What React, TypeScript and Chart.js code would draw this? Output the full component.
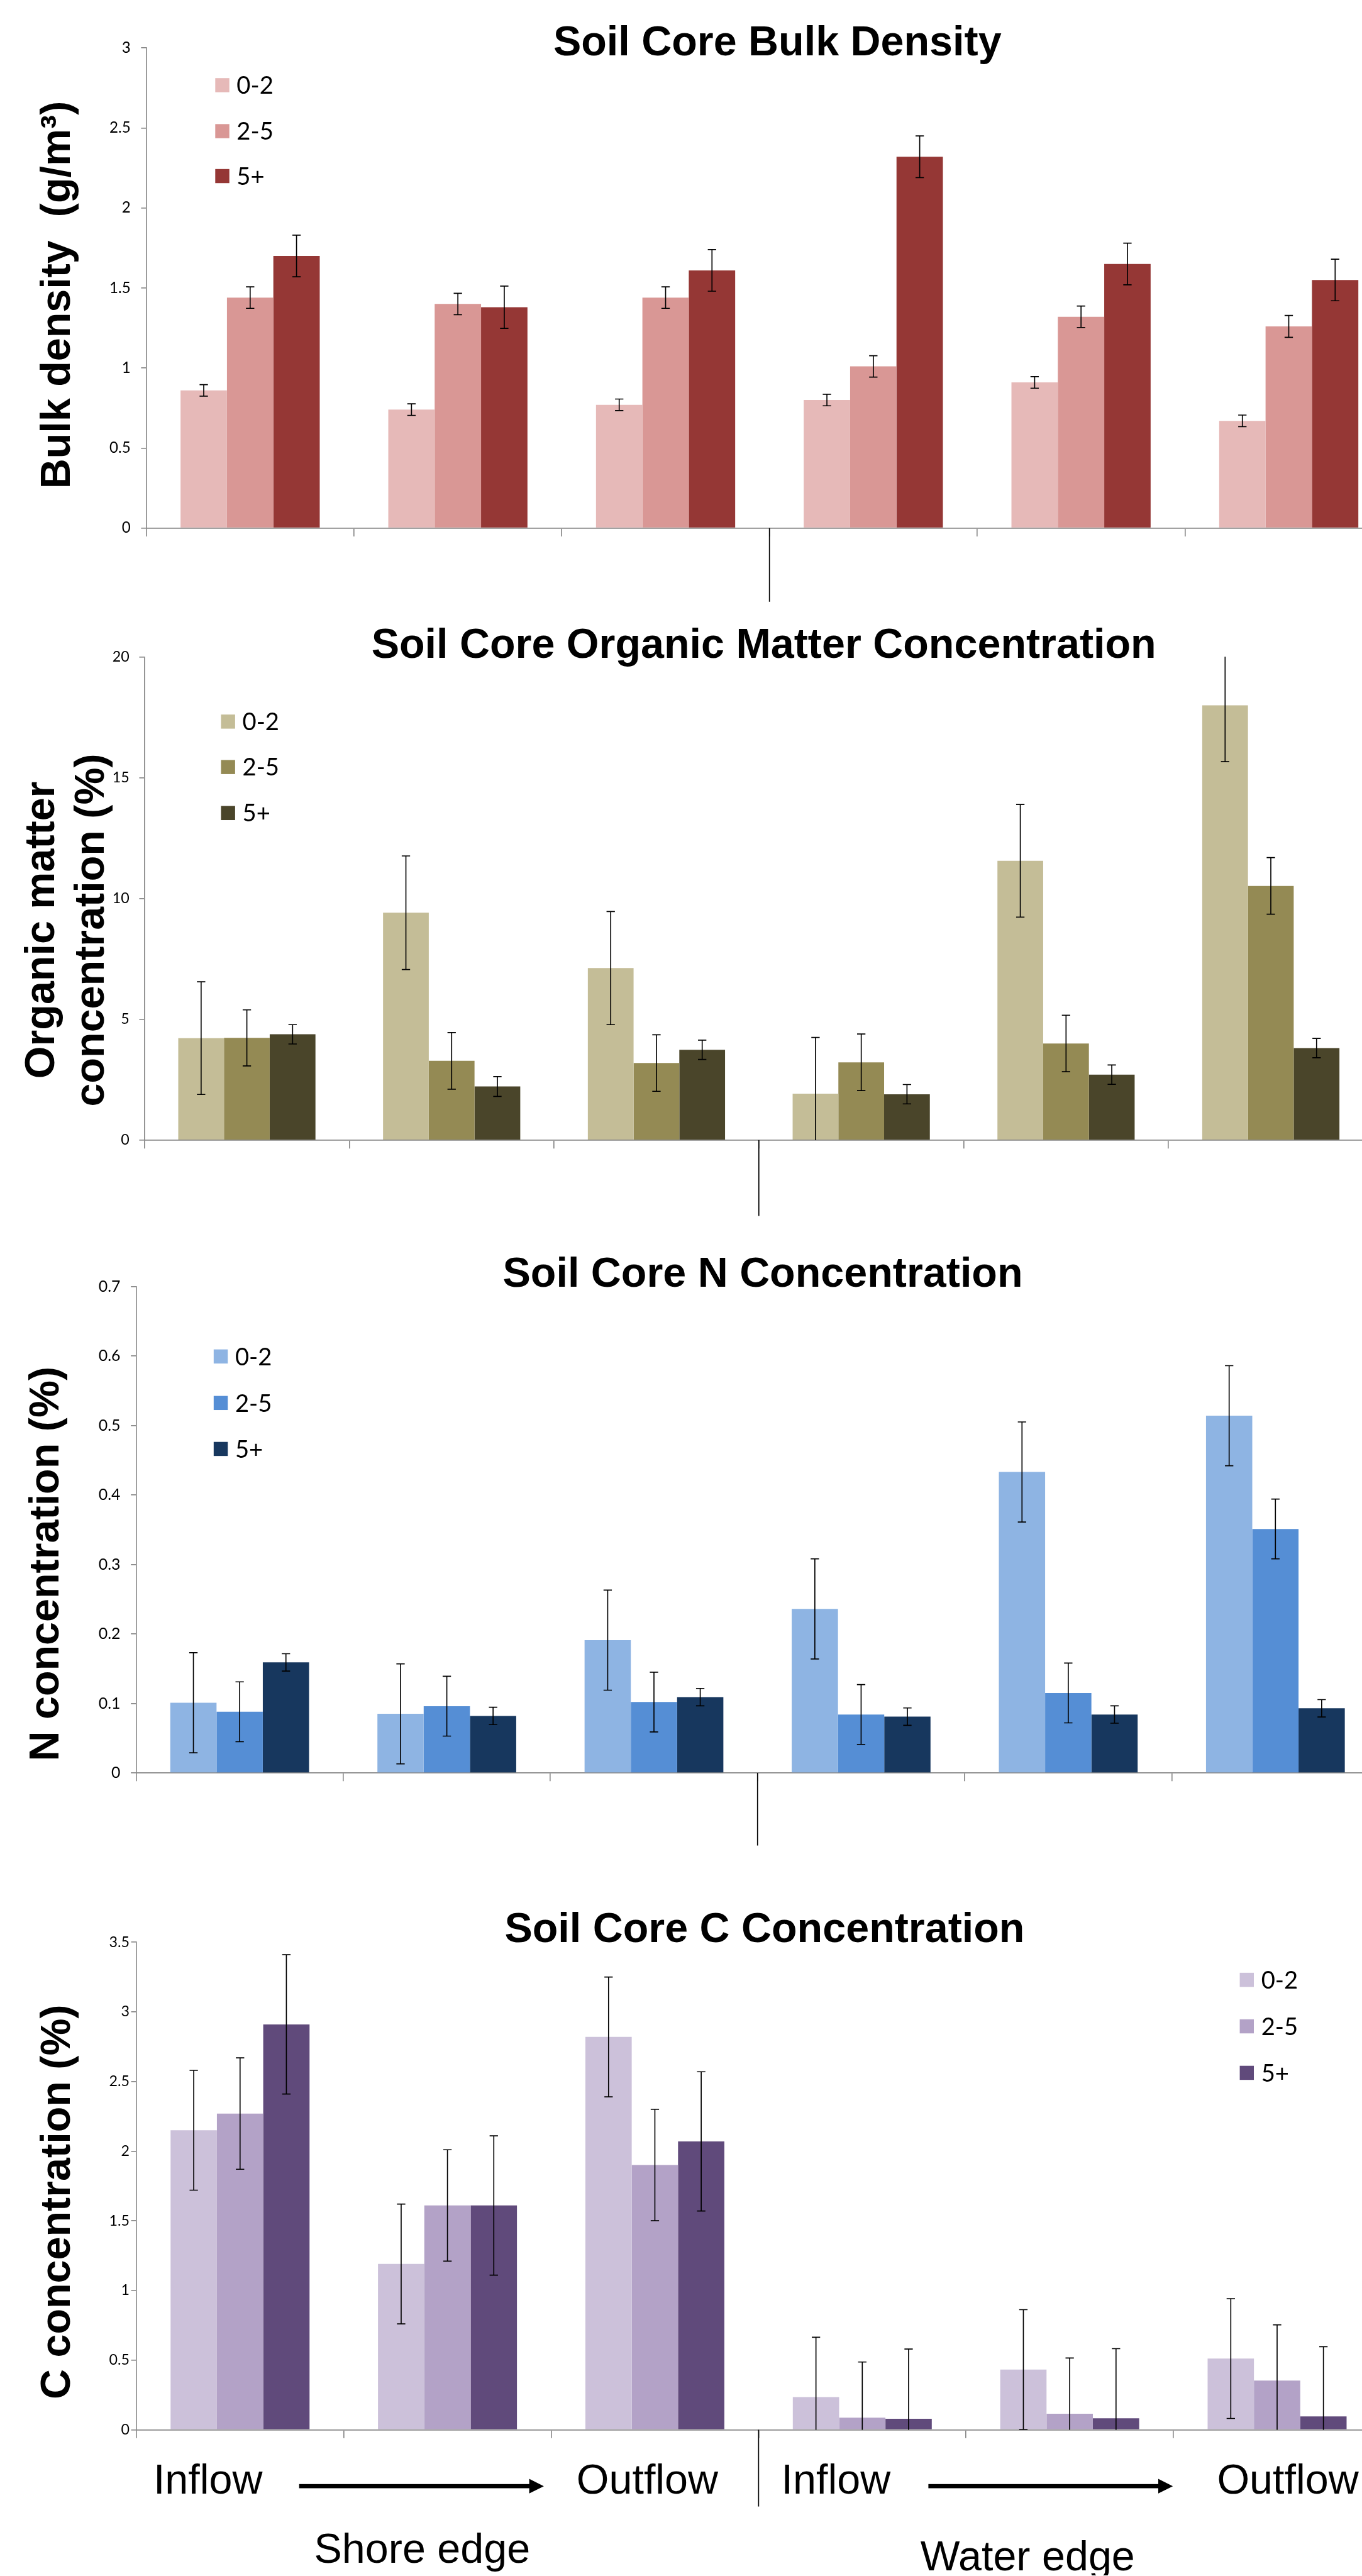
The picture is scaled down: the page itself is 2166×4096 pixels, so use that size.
import React, { useEffect, useRef } from "react";
import { Chart, registerables } from "chart.js";

Chart.register(...registerables);

const S = 2166 / 2607;
const FULL_W = 2700;

const categories = ["Shore inflow", "Shore middle", "Shore outflow", "Water inflow", "Water middle", "Water outflow"];
const depthLabels = ["0-2", "2-5", "5+"];

// Bulk density (g/m3)
const bulk02 = [0.86, 0.74, 0.77, 0.8, 0.91, 0.67];
const bulk25 = [1.44, 1.4, 1.44, 1.01, 1.32, 1.26];
const bulk5p = [1.7, 1.38, 1.61, 2.32, 1.65, 1.55];
const bulkErr02 = [0.036, 0.036, 0.036, 0.036, 0.036, 0.036];
const bulkErr25 = [0.067, 0.067, 0.067, 0.067, 0.067, 0.068];
const bulkErr5p = [0.13, 0.132, 0.13, 0.13, 0.13, 0.13];
const bulkTicks = [0, 0.5, 1, 1.5, 2, 2.5, 3];
const bulkTickLabels = ["0", "0.5", "1", "1.5", "2", "2.5", "3"];

// Organic matter (%)
const om02 = [4.22, 9.41, 7.12, 1.92, 11.56, 17.99];
const om25 = [4.23, 3.28, 3.19, 3.22, 4.0, 10.52];
const om5p = [4.38, 2.22, 3.74, 1.9, 2.71, 3.81];
const omErr02 = [2.33, 2.35, 2.34, 2.33, 2.33, 2.33];
const omErr25 = [1.16, 1.17, 1.17, 1.17, 1.17, 1.17];
const omErr5p = [0.4, 0.41, 0.4, 0.4, 0.4, 0.4];
const omTicks = [0, 5, 10, 15, 20];
const omTickLabels = ["0", "5", "10", "15", "20"];

// N concentration (%)
const n02 = [0.101, 0.085, 0.191, 0.236, 0.433, 0.514];
const n25 = [0.088, 0.096, 0.102, 0.084, 0.115, 0.351];
const n5p = [0.159, 0.082, 0.109, 0.081, 0.084, 0.093];
const nErr02 = [0.072, 0.072, 0.072, 0.072, 0.072, 0.072];
const nErr25 = [0.043, 0.043, 0.043, 0.043, 0.043, 0.043];
const nErr5p = [0.0125, 0.0125, 0.0125, 0.0125, 0.0125, 0.0125];
const nTicks = [0, 0.1, 0.2, 0.3, 0.4, 0.5, 0.6, 0.7];
const nTickLabels = ["0", "0.1", "0.2", "0.3", "0.4", "0.5", "0.6", "0.7"];

// C concentration (%)
const c02 = [2.15, 1.19, 2.82, 0.234, 0.432, 0.511];
const c25 = [2.27, 1.61, 1.9, 0.086, 0.115, 0.353];
const c5p = [2.91, 1.61, 2.07, 0.079, 0.082, 0.096];
const cErr02 = [0.43, 0.43, 0.43, 0.43, 0.43, 0.43];
const cErr25 = [0.4, 0.4, 0.4, 0.4, 0.4, 0.4];
const cErr5p = [0.5, 0.5, 0.5, 0.5, 0.5, 0.5];
const cTicks = [0, 0.5, 1, 1.5, 2, 2.5, 3, 3.5];
const cTickLabels = ["0", "0.5", "1", "1.5", "2", "2.5", "3", "3.5"];

const flowLabels = ["Inflow", "Outflow", "Inflow", "Outflow"];
const edgeLabels = ["Shore edge", "Water edge"];

const bulkColors = ["#E6B9B8", "#D99795", "#953735"];
const omColors = ["#C4BD97", "#948A54", "#4A452A"];
const nColors = ["#8EB4E3", "#558ED5", "#17375E"];
const cColors = ["#CCC1DA", "#B3A2C7", "#604A7B"];

const AXIS_GRAY = "#898989";
const SANS = '"Liberation Sans", Arial, Helvetica, sans-serif';
const HUMAN = 'Lato, "Open Sans", sans-serif';

const panels = [
  {
    key: "bulk", top: 0, height: 1170,
    area: { left: 280, right: 2665.6, top: 91.7, bottom: 1010.6 },
    series: [bulk02, bulk25, bulk5p], errors: [bulkErr02, bulkErr25, bulkErr5p], colors: bulkColors,
    ticks: bulkTicks, tickLabels: bulkTickLabels, tickFont: 29, tickPad: 20,
    title: "Soil Core Bulk Density", titleX: 1488, titleY: 106,
    yLabel: ["Bulk density  (g/m\u00B3)"], yLabelX: [134], yLabelY: 564.5,
    legendX: 412, legendRows: [163, 251, 337], sepLen: 141, bottom: false,
  },
  {
    key: "om", top: 1170, height: 1170,
    area: { left: 276.5, right: 2628.5, top: 1257, bottom: 2182 },
    series: [om02, om25, om5p], errors: [omErr02, omErr25, omErr5p], colors: omColors,
    ticks: omTicks, tickLabels: omTickLabels, tickFont: 28, tickPad: 19,
    title: "Soil Core Organic Matter Concentration", titleX: 1462, titleY: 1258.5,
    yLabel: ["Organic matter", "concentration (%)"], yLabelX: [104, 198], yLabelY: 1780,
    legendX: 423, legendRows: [1381, 1468, 1556], sepLen: 145, bottom: false,
  },
  {
    key: "n", top: 2340, height: 1205,
    area: { left: 260.5, right: 2639.5, top: 2462, bottom: 3393 },
    series: [n02, n25, n5p], errors: [nErr02, nErr25, nErr5p], colors: nColors,
    ticks: nTicks, tickLabels: nTickLabels, tickFont: 30, tickPad: 20,
    title: "Soil Core N Concentration", titleX: 1460, titleY: 2462,
    yLabel: ["N concentration (%)"], yLabelX: [112], yLabelY: 2993,
    legendX: 409, legendRows: [2596, 2685, 2773], sepLen: 139, bottom: false,
  },
  {
    key: "c", top: 3545, height: 1384,
    area: { left: 261, right: 2643, top: 3717, bottom: 4650 },
    series: [c02, c25, c5p], errors: [cErr02, cErr25, cErr5p], colors: cColors,
    ticks: cTicks, tickLabels: cTickLabels, tickFont: 28, tickPad: 3,
    title: "Soil Core C Concentration", titleX: 1463.5, titleY: 3717,
    yLabel: ["C concentration (%)"], yLabelX: [133], yLabelY: 4214,
    legendX: 2373, legendRows: [3789, 3878, 3967], sepLen: 147, bottom: true,
  },
];

function Panel({ spec }: { spec: any }) {
  const ref = useRef<HTMLCanvasElement>(null);
  const topPx = Math.round(spec.top * S);
  const hPx = Math.round((spec.top + spec.height) * S) - topPx;
  const wPx = Math.round(FULL_W * S);

  useEffect(() => {
    const canvas = ref.current;
    if (!canvas) return;
    const X = (v: number) => v * S;
    const Y = (v: number) => v * S - topPx;
    const yMax = spec.ticks[spec.ticks.length - 1];

    const errorBars = {
      id: "errorBars-" + spec.key,
      afterDatasetsDraw(chart: any) {
        const ctx = chart.ctx;
        const ys = chart.scales.y;
        ctx.save();
        ctx.strokeStyle = "#000";
        ctx.lineWidth = 2 * S;
        const cap = 8 * S;
        spec.errors.forEach((errArr: number[], di: number) => {
          const meta = chart.getDatasetMeta(di);
          meta.data.forEach((el: any, j: number) => {
            const v = spec.series[di][j];
            const e = errArr[j];
            const hi = v + e;
            const lo = v - e;
            const yHi = ys.getPixelForValue(Math.min(hi, yMax));
            const yLo = ys.getPixelForValue(Math.max(lo, 0));
            const x = el.x;
            ctx.beginPath();
            ctx.moveTo(x, yHi);
            ctx.lineTo(x, yLo);
            if (hi <= yMax) {
              ctx.moveTo(x - cap, yHi);
              ctx.lineTo(x + cap, yHi);
            }
            if (lo >= 0) {
              ctx.moveTo(x - cap, yLo);
              ctx.lineTo(x + cap, yLo);
            }
            ctx.stroke();
          });
        });
        ctx.restore();
      },
    };

    const deco = {
      id: "deco-" + spec.key,
      afterDraw(chart: any) {
        const ctx = chart.ctx;
        const xs = chart.scales.x;
        ctx.save();
        ctx.fillStyle = "#000";
        // title
        ctx.font = `bold ${80 * S}px ${SANS}`;
        ctx.textAlign = "center";
        ctx.textBaseline = "alphabetic";
        ctx.fillText(spec.title, X(spec.titleX), Y(spec.titleY));
        // y label
        spec.yLabel.forEach((line: string, i: number) => {
          ctx.save();
          ctx.translate(X(spec.yLabelX[i]), Y(spec.yLabelY));
          ctx.rotate(-Math.PI / 2);
          ctx.textAlign = "center";
          ctx.fillText(line, 0, 0);
          ctx.restore();
        });
        // legend
        ctx.font = `${46 * S}px ${HUMAN}`;
        ctx.textAlign = "left";
        depthLabels.forEach((lab, i) => {
          const r = spec.legendRows[i];
          ctx.fillStyle = spec.colors[i];
          ctx.fillRect(X(spec.legendX), Y(r - 13.5), 27 * S, 27 * S);
          ctx.fillStyle = "#000";
          ctx.fillText(lab, X(spec.legendX + 41), Y(r + 16.5));
        });
        // separator between shore and water groups
        const sx = (xs.getPixelForValue(2) + xs.getPixelForValue(3)) / 2;
        const bottom = chart.chartArea.bottom;
        ctx.strokeStyle = "#000";
        ctx.lineWidth = 2 * S;
        ctx.beginPath();
        ctx.moveTo(sx, bottom);
        ctx.lineTo(sx, bottom + spec.sepLen * S);
        ctx.stroke();

        if (spec.bottom) {
          ctx.fillStyle = "#000";
          ctx.font = `${80 * S}px ${SANS}`;
          ctx.textAlign = "center";
          const flowX = [398, 1239, 1600, 2465];
          flowLabels.forEach((t, i) => ctx.fillText(t, X(flowX[i]), Y(4772.5)));
          ctx.fillText(edgeLabels[0], X(808), Y(4904.5));
          ctx.fillText(edgeLabels[1], X(1967), Y(4919));
          const arrows = [
            [572.6, 1041],
            [1777, 2245],
          ];
          arrows.forEach(([a, b]) => {
            const y = Y(4758);
            const th = 8 * S;
            const hl = 28 * S;
            const hh = 14 * S;
            ctx.fillRect(X(a), y - th / 2, X(b) - hl - X(a) + 1, th);
            ctx.beginPath();
            ctx.moveTo(X(b), y);
            ctx.lineTo(X(b) - hl, y - hh);
            ctx.lineTo(X(b) - hl, y + hh);
            ctx.closePath();
            ctx.fill();
          });
        }
        ctx.restore();
      },
    };

    const chart = new Chart(canvas, {
      type: "bar",
      data: {
        labels: categories,
        datasets: spec.series.map((d: number[], i: number) => ({
          label: depthLabels[i],
          data: d,
          backgroundColor: spec.colors[i],
          borderWidth: 0,
          categoryPercentage: 0.67,
          barPercentage: 1.0,
        })),
      },
      options: {
        responsive: false,
        maintainAspectRatio: false,
        devicePixelRatio: 1,
        animation: false,
        layout: {
          padding: {
            left: 0,
            top: Y(spec.area.top),
            right: wPx - X(spec.area.right),
            bottom: 0,
          },
        },
        plugins: {
          legend: { display: false },
          tooltip: { enabled: false },
          title: { display: false },
        },
        scales: {
          x: {
            type: "category",
            offset: true,
            grid: {
              display: true,
              offset: true,
              drawOnChartArea: false,
              drawTicks: true,
              tickLength: 16 * S,
              color: AXIS_GRAY,
              lineWidth: 2 * S,
            },
            border: { display: true, color: AXIS_GRAY, width: 2 * S },
            ticks: { display: false },
            afterFit: (s: any) => {
              s.height = hPx - Y(spec.area.bottom);
            },
          },
          y: {
            min: 0,
            max: yMax,
            afterBuildTicks: (s: any) => {
              s.ticks = spec.ticks.map((v: number) => ({ value: v }));
            },
            ticks: {
              callback: (_v: any, idx: number) => spec.tickLabels[idx],
              font: { family: HUMAN, size: spec.tickFont * S },
              color: "#000",
              padding: spec.tickPad * S,
            },
            grid: {
              display: true,
              drawOnChartArea: false,
              drawTicks: true,
              tickLength: 10 * S,
              color: AXIS_GRAY,
              lineWidth: 2 * S,
            },
            border: { display: true, color: AXIS_GRAY, width: 2 * S },
            afterFit: (s: any) => {
              s.width = X(spec.area.left);
            },
          },
        },
      },
      plugins: [errorBars, deco],
    } as any);

    return () => chart.destroy();
  }, []);

  return (
    <canvas
      ref={ref}
      width={wPx}
      height={hPx}
      style={{ position: "absolute", left: 0, top: topPx, width: wPx, height: hPx, display: "block" }}
    />
  );
}

export default function App() {
  return (
    <div
      style={{
        position: "absolute",
        left: 0,
        top: 0,
        width: 2166,
        height: 4096,
        overflow: "hidden",
        background: "#fff",
      }}
    >
      {panels.map((p) => (
        <Panel key={p.key} spec={p} />
      ))}
    </div>
  );
}
